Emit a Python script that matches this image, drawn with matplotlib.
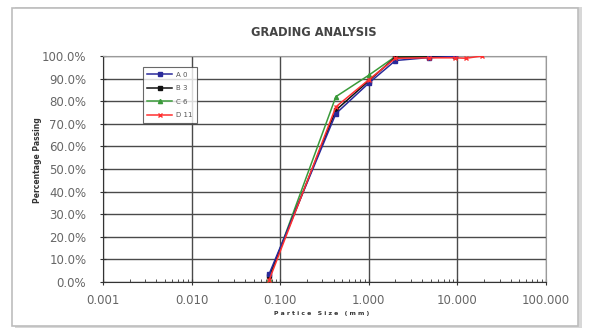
import matplotlib
matplotlib.use("Agg")
import matplotlib.pyplot as plt
from matplotlib.patches import Rectangle
from matplotlib.ticker import FixedLocator, LogLocator, NullFormatter, FuncFormatter

# Data
sizes_a = [0.075, 0.425, 1.0, 2.0, 4.75, 9.5]
a0 = [3.5, 74.5, 88.0, 98.0, 99.3, 99.8]
sizes_b = [0.075, 0.425, 1.0, 2.0, 4.75, 9.5]
b3 = [2.5, 76.0, 89.0, 99.5, 99.6, 100.0]
sizes_c = [0.075, 0.425, 1.0, 2.0, 4.75, 9.5]
c6 = [1.5, 82.0, 91.5, 99.8, 99.8, 99.9]
sizes_d = [0.075, 0.425, 1.0, 2.0, 4.75, 9.5, 12.5, 19.0]
d11 = [0.8, 77.5, 89.5, 99.0, 99.2, 99.2, 99.0, 100.0]
labels = ["A 0", "B 3", "C 6", "D 11"]
xticks = [0.001, 0.01, 0.1, 1, 10, 100]
xticklabels = ["0.001", "0.010", "0.100", "1.000", "10.000", "100.000"]

fig = plt.figure(figsize=(5.95, 3.3), dpi=100)
fig.patch.set_facecolor("white")

# frame with shadow
fig.patches.append(Rectangle((0.026, 0.005), 0.952, 0.975, transform=fig.transFigure,
                             facecolor="#d8d8d8", edgecolor="none", zorder=-3))
fig.patches.append(Rectangle((0.02, 0.012), 0.952, 0.965, transform=fig.transFigure,
                             facecolor="white", edgecolor="#bdbdbd", linewidth=1.2, zorder=-2))

ax = fig.add_axes([0.1731, 0.1455, 0.7445, 0.6848])
ax.set_xscale("log")
ax.set_xlim(0.001, 100)
ax.set_ylim(0, 100)

ax.plot(sizes_a, a0, color="#2a2a9a", marker="s", markersize=3, linewidth=1.1, label=labels[0], zorder=5)
ax.plot(sizes_b, b3, color="#111111", marker="s", markersize=3, linewidth=1.1, label=labels[1], zorder=4)
ax.plot(sizes_c, c6, color="#3a9a3a", marker="^", markersize=3, linewidth=1.1, label=labels[2], zorder=3)
ax.plot(sizes_d, d11, color="#ff3030", marker="x", markersize=3.5, linewidth=1.1, label=labels[3], zorder=6)

ax.xaxis.set_major_locator(FixedLocator(xticks))
ax.set_xticklabels(xticklabels)
ax.xaxis.set_minor_locator(LogLocator(base=10, subs=range(2, 10)))
ax.xaxis.set_minor_formatter(NullFormatter())
ax.set_yticks(range(0, 101, 10))
ax.yaxis.set_major_formatter(FuncFormatter(lambda v, p: f"{v:.1f}%"))

ax.grid(True, which="major", color="#4a4a4a", linewidth=1.0)
ax.set_axisbelow(True)
for s in ["top", "right"]:
    ax.spines[s].set_color("#9a9a9a")
for s in ["left", "bottom"]:
    ax.spines[s].set_color("#333333")
ax.tick_params(axis="both", which="major", labelsize=8.5, labelcolor="#666666", color="#333333",
               length=4, direction="inout")
ax.tick_params(axis="y", which="major", pad=10)
ax.tick_params(axis="x", which="major", pad=7)
ax.tick_params(axis="x", which="minor", length=2, direction="in", color="#333333")

fig.text(314 / 595, 1 - 33 / 330, "GRADING ANALYSIS", fontsize=8.3, fontweight="bold",
         color="#444444", ha="center", va="center")
fig.text(322 / 595, 1 - 313 / 330, "P a r t i c e   S i z e   ( m m )", fontsize=4.4,
         fontweight="bold", color="#333333", ha="center", va="center")
fig.text(37 / 595, 1 - 160 / 330, "Percentage Passing", fontsize=5.5, fontweight="bold",
         color="#333333", ha="center", va="center", rotation=90)

leg = ax.legend(loc="upper left", bbox_to_anchor=(0.083, 0.965), fontsize=5, frameon=True,
                fancybox=False, edgecolor="#444444", handlelength=3.5, borderpad=0.6,
                labelspacing=1.1, handletextpad=0.6)
leg.get_frame().set_linewidth(0.8)
for t in leg.get_texts():
    t.set_color("#555555")

fig.savefig("out.png", dpi=100)
